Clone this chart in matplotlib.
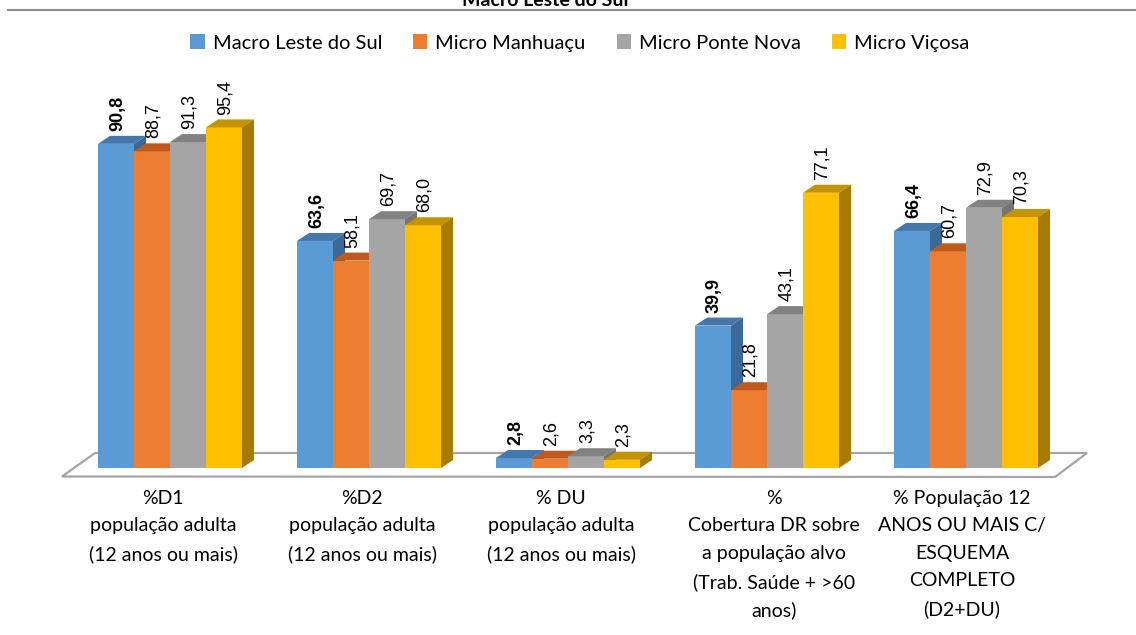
import matplotlib.pyplot as plt
from matplotlib.patches import Polygon, Patch
from matplotlib.lines import Line2D
import numpy as np

# dados
categorias = ['%D1\npopulação adulta\n(12 anos ou mais)',
              '%D2\npopulação adulta\n(12 anos ou mais)',
              '% DU\npopulação adulta\n(12 anos ou mais)',
              '%\nCobertura DR sobre\na população alvo\n(Trab. Saúde + >60\nanos)',
              '% População 12\nANOS OU MAIS C/\nESQUEMA\nCOMPLETO\n(D2+DU)']
series = ['Macro Leste do Sul', 'Micro Manhuaçu', 'Micro Ponte Nova', 'Micro Viçosa']
macro_leste = [90.8, 63.6, 2.8, 39.9, 66.4]
micro_manhuacu = [88.7, 58.1, 2.6, 21.8, 60.7]
micro_ponte_nova = [91.3, 69.7, 3.3, 43.1, 72.9]
micro_vicosa = [95.4, 68.0, 2.3, 77.1, 70.3]
valores = [macro_leste, micro_manhuacu, micro_ponte_nova, micro_vicosa]

frente = ['#5B9BD5', '#ED7D31', '#A5A5A5', '#FFC000']
topo = ['#4677AC', '#C05A1C', '#828282', '#C49400']
lado = ['#3C6A98', '#A8501A', '#747474', '#A57C00']

# escala: 199 px por grupo, 3.57 px por ponto percentual
px_grupo = 199.0
px_valor = 3.57
x0_px, y0_px = 170.0, 468.0


def X(px):
    return (px - x0_px) / px_grupo


def V(py):
    return (y0_px - py) / px_valor


fig = plt.figure(figsize=(11.36, 6.35), dpi=100)
ax = fig.add_axes([0, 0, 1, 1])
ax.set_xlim(X(0), X(1136))
ax.set_ylim(V(635), V(0))
ax.axis('off')

w = 36 / px_grupo
dx = 12 / px_grupo
dy = 8 / px_valor
pos = np.arange(len(categorias))

# piso
piso = Polygon([(X(62), V(476.5)), (X(95), V(453)), (X(1087), V(453)), (X(1055), V(477))],
               closed=True, facecolor='white', edgecolor='#A6A6A6', lw=1.6, zorder=1)
ax.add_patch(piso)

for j, vals in enumerate(valores):
    xs = pos + (j - 1.5) * w
    ax.bar(xs, vals, width=w, color=frente[j], zorder=2 + j, linewidth=0)
    for x, v in zip(xs, vals):
        xa, xb = x - w / 2, x + w / 2
        ax.add_patch(Polygon([(xa, v), (xb, v), (xb + dx, v + dy), (xa + dx, v + dy)],
                             closed=True, facecolor=topo[j], lw=0, zorder=2 + j))
        ax.add_patch(Polygon([(xb, 0), (xb, v), (xb + dx, v + dy), (xb + dx, dy)],
                             closed=True, facecolor=lado[j], lw=0, zorder=2 + j))
        ax.text(x + 0.008, v + 3.6, f'{v:.1f}'.replace('.', ','), rotation=90,
                ha='center', va='bottom', fontsize=13, family='Liberation Sans',
                fontweight='bold' if j == 0 else 'normal', color='black', zorder=10)

desloc = [-0.035, -0.035, -0.035, 0.035, -0.02]
for i, cat in enumerate(categorias):
    ax.text(pos[i] + desloc[i], V(490), cat, ha='center', va='top', fontsize=14,
            family='Lato', linespacing=1.74, color='black')

# titulo (cortado no topo) e linha
fig.text(545 / 1136, 1 - 6 / 635, 'Macro Leste do Sul', ha='center', va='baseline',
         fontsize=14, fontweight='bold', family='Lato')
fig.add_artist(Line2D([8 / 1136, 1], [1 - 10 / 635, 1 - 10 / 635], color='#8C8C8C', lw=1.5))

handles = [Patch(facecolor=c, edgecolor='none') for c in frente]
fig.legend(handles, series, loc='center', bbox_to_anchor=(580 / 1136, 1 - 43 / 635),
           ncol=4, frameon=False, handlelength=0.7, handleheight=0.7, handletextpad=0.4,
           columnspacing=1.55, prop={'family': 'Lato', 'size': 14.5})

fig.savefig('out.png', dpi=100)
